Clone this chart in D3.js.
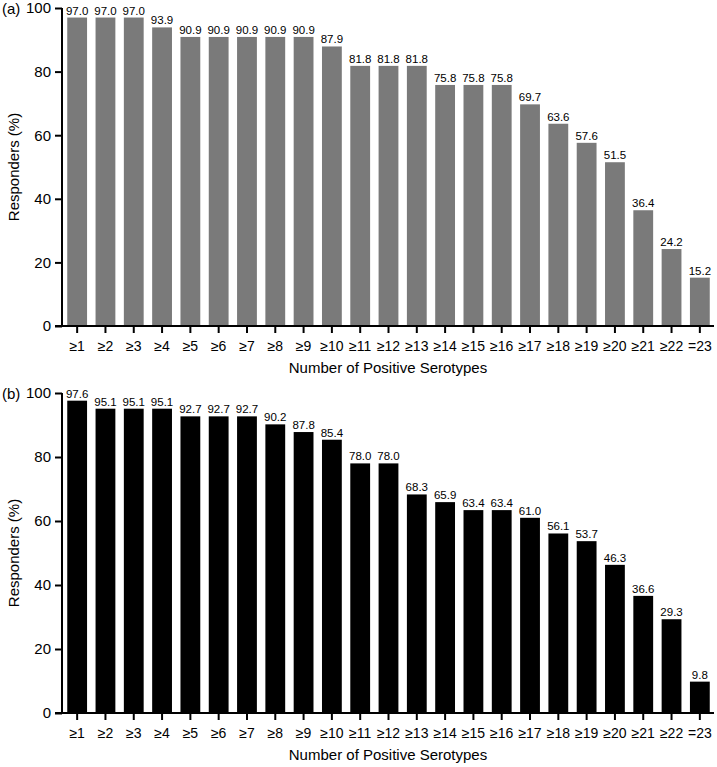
<!DOCTYPE html>
<html><head><meta charset="utf-8">
<script src="https://cdn.jsdelivr.net/npm/d3@7"></script>
<style>body{margin:0;background:#fff}text{font-family:"Liberation Sans",Arial,Helvetica,sans-serif}</style>
</head><body>
<svg id="c" width="717" height="767"></svg>
<script>
const categories = ["≥1","≥2","≥3","≥4","≥5","≥6","≥7","≥8","≥9","≥10","≥11","≥12","≥13","≥14","≥15","≥16","≥17","≥18","≥19","≥20","≥21","≥22","=23"];
const seriesA = [97.0,97.0,97.0,93.9,90.9,90.9,90.9,90.9,90.9,87.9,81.8,81.8,81.8,75.8,75.8,75.8,69.7,63.6,57.6,51.5,36.4,24.2,15.2];
const seriesB = [97.6,95.1,95.1,95.1,92.7,92.7,92.7,90.2,87.8,85.4,78.0,78.0,68.3,65.9,63.4,63.4,61.0,56.1,53.7,46.3,36.6,29.3,9.8];
const yTicks = [0,20,40,60,80,100];

const svg = d3.select("#c");
const x = d3.scaleBand().domain(categories).range([63,714]).paddingInner(0.3).paddingOuter(0.15);

function panel(values, color, label, y0, y100){
  const g = svg.append("g");
  const y = d3.scaleLinear().domain([0,100]).range([y0,y100]);
  g.selectAll("rect").data(values).enter().append("rect")
    .attr("x",(d,i)=>x(categories[i])).attr("width",x.bandwidth())
    .attr("y",d=>y(d)).attr("height",d=>y(0)-y(d)).attr("fill",color);
  g.selectAll("text.v").data(values).enter().append("text").attr("class","v")
    .attr("x",(d,i)=>x(categories[i])+x.bandwidth()/2).attr("y",d=>y(d)-3)
    .attr("text-anchor","middle").attr("font-size",11.5).text(d=>d.toFixed(1));
  const ya = g.append("g").attr("transform","translate(62,0)")
    .call(d3.axisLeft(y).tickValues(yTicks).tickSize(7).tickPadding(4));
  ya.select(".domain").attr("stroke-width",2).attr("d",`M0,${y0}V${y100}`);
  ya.selectAll(".tick line").attr("stroke-width",2);
  ya.selectAll("text").attr("font-size",15).attr("font-family","Liberation Sans, Arial, sans-serif");
  const xa = g.append("g").attr("transform",`translate(0,${y0})`)
    .call(d3.axisBottom(x).tickSize(7).tickPadding(8));
  xa.select(".domain").attr("stroke-width",2).attr("d",`M55,0H714`);
  xa.selectAll(".tick line").attr("stroke-width",2);
  xa.selectAll("text").attr("font-size",14).attr("font-family","Liberation Sans, Arial, sans-serif");
  g.append("text").attr("transform",`translate(19,${(y0+y100)/2}) rotate(-90)`)
    .attr("text-anchor","middle").attr("font-size",15).text("Responders (%)");
  g.append("text").attr("x",388).attr("y",y0+47).attr("text-anchor","middle")
    .attr("font-size",15).text("Number of Positive Serotypes");
  g.append("text").attr("x",2).attr("y",y100+6).attr("font-size",15).text(label);
}
panel(seriesA,"#7a7a7a","(a)",326,8);
panel(seriesB,"#000000","(b)",713,393);
</script>
</body></html>
